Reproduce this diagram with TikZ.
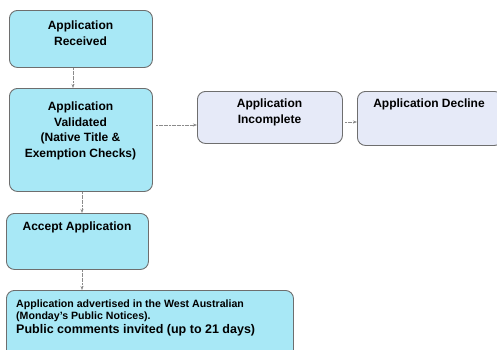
\documentclass[tikz,border=0pt]{standalone}
\usepackage{fontspec}
\setmainfont{Liberation Sans}
\usetikzlibrary{arrows.meta}
\definecolor{cyanbox}{HTML}{A8E8F6}
\definecolor{lavbox}{HTML}{E6EAF8}
\definecolor{edgegray}{HTML}{6E6E6E}
\begin{document}
\begin{tikzpicture}[x=1pt,y=-1pt,
  box/.style={draw=edgegray, line width=0.9pt, rounded corners=8pt, anchor=north west, inner sep=0pt},
  cbox/.style={box, fill=cyanbox},
  lbox/.style={box, fill=lavbox},
  lbl/.style={anchor=north, align=center, font=\bfseries\fontsize{12}{15.5}\selectfont, inner sep=0pt},
  conn/.style={draw=edgegray!80, line width=0.6pt, dash pattern=on 2pt off 0.6pt, -{Stealth[length=4pt,width=3pt]}}
]
\useasboundingbox (0,0) rectangle (497,349);
\node[cbox, minimum width=143pt, minimum height=57pt] (rec) at (9,10) {};
\node[lbl] (recT) at (80.5,21) {Application\\Received};
\node[cbox, minimum width=143pt, minimum height=103pt] (val) at (9,88) {};
\node[lbl] (valT) at (80.5,102) {Application\\Validated\\(Native Title \&\\Exemption Checks)};
\node[lbox, minimum width=145pt, minimum height=52pt] (inc) at (197,91) {};
\node[lbl] (incT) at (269.5,99) {Application\\Incomplete};
\node[lbox, minimum width=145pt, minimum height=54pt] (dec) at (357,91) {};
\node[lbl] (decT) at (429,99) {Application Decline};
\node[cbox, minimum width=142pt, minimum height=56pt] (acc) at (6,213) {};
\node[lbl] (accT) at (77,222) {Accept Application};
\node[cbox, minimum width=287pt, minimum height=80pt] (adv) at (6,290) {};
\node[anchor=north west, align=left, inner sep=0pt, font=\bfseries] (advT) at (16,300)
  {{\fontsize{10.6}{13.5}\selectfont Application advertised in the West Australian}\\
   {\fontsize{10.6}{13.5}\selectfont (Monday's Public Notices).}\\[1.5pt]
   {\fontsize{12.5}{14.5}\selectfont Public comments invited (up to 21 days)}};
\draw[conn] (rec.south -| 73,0) -- (val.north -| 73,0);
\draw[conn] (val.south -| 82,0) -- (acc.north -| 82,0);
\draw[conn] (acc.south -| 82,0) -- (adv.north -| 82,0);
\draw[conn] (val.east |- 0,125) ++(3,0) -- (inc.west |- 0,125);
\draw[conn] (inc.east |- 0,122) ++(2,0) -- (dec.west |- 0,122);
\end{tikzpicture}
\end{document}
